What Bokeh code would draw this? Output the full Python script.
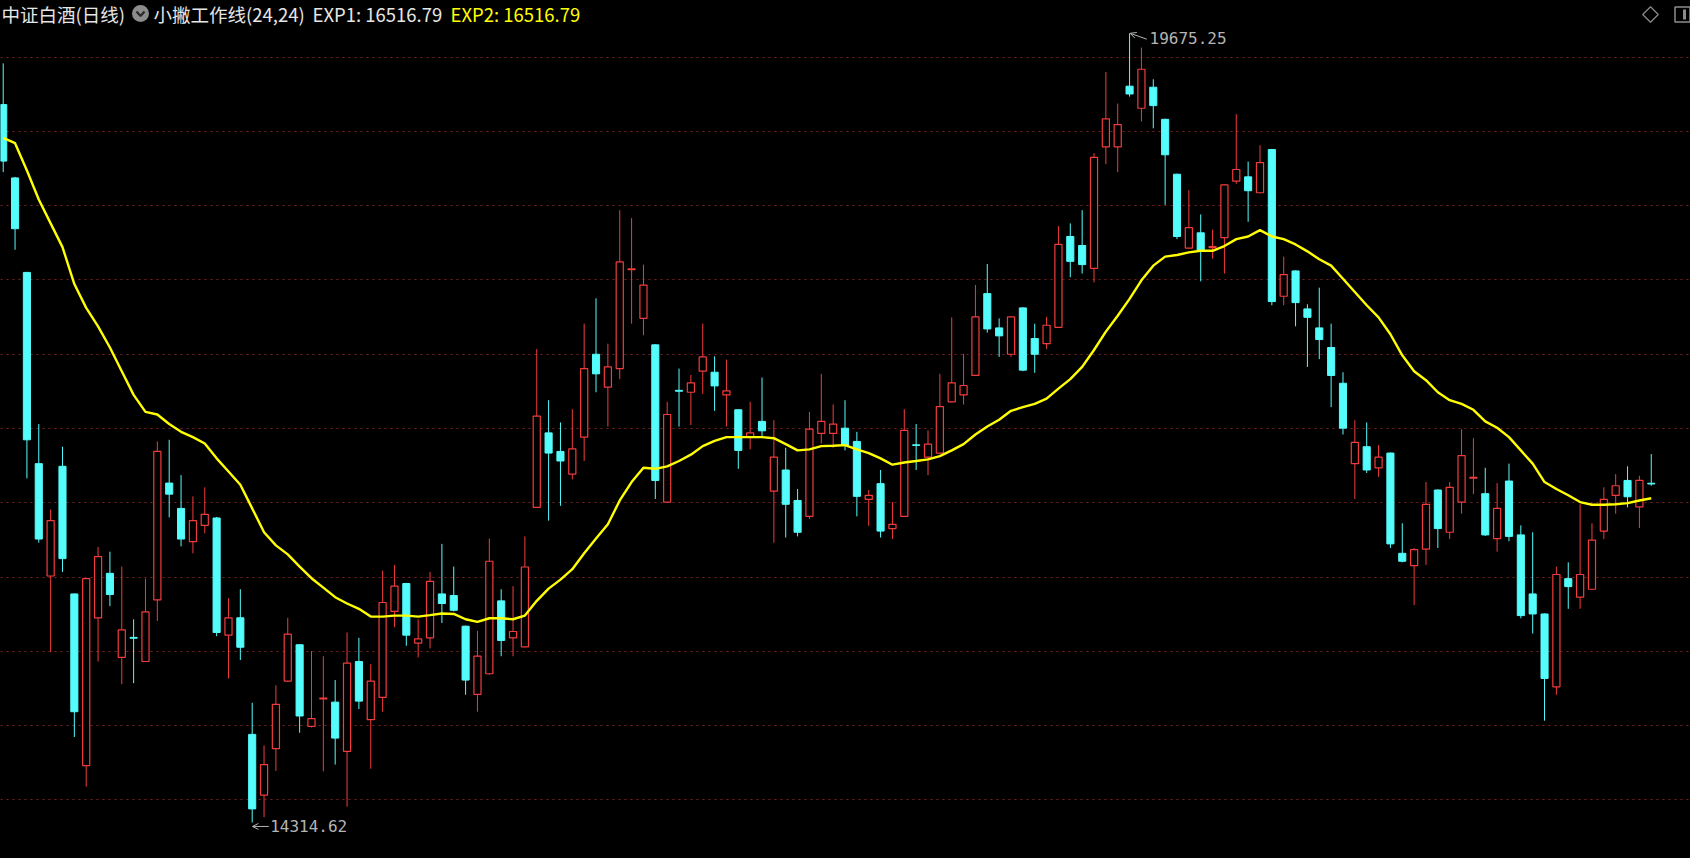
import numpy as np
from bokeh.plotting import figure
from bokeh.models import (Range1d, FixedTicker, Grid, Label, Arrow, OpenHead,
                          ColumnDataSource, GlobalInlineStyleSheet)
from bokeh.embed import file_html
from bokeh.resources import INLINE

# ---------------- data ----------------
title_main = "中证白酒(日线)"
title_ind = "小撇工作线(24,24)"
exp1_label = "EXP1: 16516.79"
exp2_label = "EXP2: 16516.79"

opens = [
    19191, 18693, 18051, 16752, 15989, 16734, 15867, 14701, 15705, 16007,
    15436, 15572, 15408, 15827, 16620, 16448, 16222, 16333, 16383, 15587,
    15705, 14913, 14500, 14816, 15275, 15522, 14967, 15154, 15132, 14798,
    15408, 15013, 15164, 15748, 15938, 15533, 15569, 15867, 15856, 15648,
    15185, 15325, 15820, 15569, 15508, 16455, 16961, 16835, 16681, 16932,
    17495, 17272, 17398, 18069, 17739, 17559, 16491, 17250, 17237, 17380,
    17373, 17219, 17118, 16932, 17039, 16566, 16709, 16502, 16394, 16957,
    16957, 16993, 16903, 16509, 16616, 16311, 16394, 16880, 16796, 16824,
    17172, 17219, 17351, 17907, 17674, 17495, 17810, 17602, 17567, 17678,
    18295, 18234, 18079, 18904, 18904, 19316, 19166, 19309, 19091, 18718,
    18216, 18320, 18220, 18287, 18671, 18700, 18592, 18886, 17889, 18061,
    17803, 17674, 17541, 17298, 16752, 16867, 16724, 16824, 16143, 16060,
    16172, 16573, 16286, 16491, 16653, 16548, 16243, 16634, 16268, 15867,
    15731, 15236, 15971, 15845, 15899, 16294, 16537, 16638, 16458, 16619,
]
highs = [
    19471, 18700, 18055, 17021, 16440, 16867, 15870, 15975, 16186, 16154,
    16053, 15695, 15971, 16903, 16914, 16674, 16530, 16591, 16390, 15838,
    15899, 15128, 14838, 15246, 15705, 15525, 15479, 15444, 15282, 15605,
    15569, 15390, 16025, 16064, 15942, 15695, 16017, 16207, 16053, 15652,
    15616, 16243, 15899, 15920, 16258, 17531, 17183, 17032, 17122, 17703,
    17875, 17567, 18474, 18420, 18104, 17563, 17172, 17398, 17355, 17703,
    17481, 17459, 17122, 17172, 17337, 17047, 16860, 16580, 17104, 17362,
    17154, 17183, 16968, 16573, 16709, 16491, 17122, 17021, 16978, 17362,
    17746, 17498, 17965, 18108, 17739, 17752, 17814, 17703, 17749, 18366,
    18384, 18474, 18861, 19413, 19198, 19675.25, 19578, 19363, 19095, 18722,
    18610, 18445, 18341, 18650, 19126, 18804, 18915, 18890, 18158, 18065,
    17835, 17947, 17703, 17373, 17047, 17032, 16878, 16828, 16347, 16179,
    16627, 16577, 16627, 16986, 16925, 16724, 16620, 16752, 16333, 16286,
    15735, 16053, 16082, 16476, 16347, 16591, 16681, 16734, 16670, 16817,
]
lows = [
    18732, 18205, 16652, 16215, 15472, 16017, 14895, 14558, 15408, 15784,
    15254, 15261, 15405, 15684, 16387, 16190, 16143, 16279, 15580, 15293,
    15418, 14314.62, 14350, 14665, 15272, 14924, 14960, 14662, 14708, 14422,
    15085, 14680, 15067, 15641, 15515, 15436, 15497, 15670, 15748, 15182,
    15067, 15318, 15444, 15444, 15505, 16452, 16365, 16466, 16645, 16770,
    17237, 17004, 17326, 17703, 17624, 16512, 16488, 17004, 17014, 17226,
    17111, 17004, 16717, 16849, 16932, 16215, 16250, 16258, 16376, 16889,
    16860, 16842, 16394, 16329, 16250, 16240, 16391, 16709, 16674, 16820,
    17168, 17154, 17348, 17642, 17477, 17477, 17380, 17369, 17531, 17675,
    18018, 18043, 17983, 18786, 18732, 19245, 19076, 19030, 18510, 18277,
    18213, 17990, 18144, 18043, 18653, 18395, 18589, 17828, 17828, 17685,
    17409, 17462, 17136, 16950, 16512, 16688, 16663, 16179, 16082, 15791,
    16064, 16179, 16240, 16412, 16545, 16261, 16154, 16225, 15702, 15598,
    15006, 15182, 15766, 15766, 15896, 16240, 16412, 16455, 16315, 16602,
]
closes = [
    18807, 18348, 16914, 16240, 16365, 16107, 15067, 15971, 16121, 15863,
    15623, 15566, 15745, 16835, 16545, 16240, 16365, 16408, 15605, 15705,
    15505, 14407, 14708, 15117, 15594, 15038, 15020, 15160, 14888, 15397,
    15139, 15275, 15809, 15920, 15587, 15562, 15953, 15802, 15756, 15282,
    15444, 16089, 15551, 15612, 16050, 17075, 16824, 16770, 16853, 17398,
    17362, 17409, 18122, 18075, 17965, 16638, 17086, 17244, 17301, 17477,
    17280, 17247, 16842, 16961, 16975, 16796, 16476, 16286, 16986, 17039,
    17021, 16878, 16530, 16537, 16294, 16340, 16978, 16876, 16885, 17140,
    17301, 17283, 17749, 17667, 17620, 17749, 17387, 17495, 17692, 18241,
    18126, 18104, 18832, 19094, 19055, 19263, 19431, 19184, 18850, 18295,
    18355, 18194, 18226, 18646, 18750, 18606, 18797, 17853, 18036, 17846,
    17746, 17595, 17351, 16993, 16896, 16709, 16796, 16207, 16089, 16168,
    16476, 16311, 16591, 16806, 16659, 16268, 16448, 16258, 15720, 15731,
    15293, 15999, 15917, 15999, 16233, 16509, 16602, 16527, 16638, 16614,
]
exp_line = [
    18965, 18929, 18743, 18546, 18384, 18223, 17972, 17810, 17685, 17541,
    17380, 17219, 17104, 17086, 17021, 16968, 16932, 16889, 16788, 16699,
    16609, 16448, 16286, 16197, 16136, 16053, 15974, 15910, 15845, 15802,
    15766, 15713, 15713, 15720, 15720, 15713, 15723, 15734, 15731, 15695,
    15677, 15702, 15702, 15695, 15720, 15820, 15903, 15964, 16035, 16143,
    16243, 16340, 16502, 16627, 16724, 16717, 16734, 16770, 16813, 16871,
    16907, 16932, 16932, 16932, 16932, 16925, 16885, 16842, 16849, 16871,
    16874, 16878, 16849, 16824, 16788, 16745, 16760, 16770, 16781, 16803,
    16842, 16885, 16950, 17004, 17050, 17111, 17136, 17158, 17194, 17262,
    17326, 17409, 17524, 17649, 17757, 17871, 17997, 18097, 18158, 18169,
    18187, 18198, 18198, 18230, 18277, 18295, 18338, 18295, 18277, 18241,
    18194, 18140, 18097, 18008, 17918, 17828, 17746, 17631, 17488, 17380,
    17319, 17237, 17183, 17158, 17118, 17039, 16996, 16932, 16842, 16752,
    16627, 16580, 16537, 16491, 16473, 16473, 16476, 16484, 16502, 16516.79,
]
grid_levels = [19514, 19009, 18505, 18000, 17496, 16991, 16486, 15982, 15477, 14973, 14468]

# ---------------- styling ----------------
UP = "#F03C3C"
DOWN = "#54FCFC"
YELLOW = "#FFFF00"
GRAY = "#B4B4B4"

W, H = 1690, 858
x_lo, x_hi = -0.228, 142.31
y_lo, y_hi = 14070.0, 19898.0


def X(px):
    return x_lo + px / W * (x_hi - x_lo)


def Y(py):
    return y_hi - py / H * (y_hi - y_lo)


n = len(opens)
idx = np.arange(n)
o = np.array(opens, dtype=float)
c = np.array(closes, dtype=float)
hi = np.array(highs, dtype=float)
lo = np.array(lows, dtype=float)
up = c >= o

src_up = ColumnDataSource(dict(x=idx[up], o=o[up], c=c[up], h=hi[up], l=lo[up]))
src_dn = ColumnDataSource(dict(x=idx[~up], o=o[~up], c=c[~up], h=hi[~up], l=lo[~up]))

p = figure(width=W, height=H, x_range=Range1d(x_lo, x_hi), y_range=Range1d(y_lo, y_hi),
           output_backend="svg", toolbar_location=None,
           x_axis_location=None, y_axis_location=None,
           background_fill_color="black", border_fill_color="black",
           min_border=0, outline_line_color=None)
p.grid.visible = False
p.stylesheets = [GlobalInlineStyleSheet(css="html, body { background: #000000; }")]

grid = Grid(dimension=1, ticker=FixedTicker(ticks=grid_levels),
            grid_line_color="#8A1C1C", grid_line_dash="2 4", grid_line_width=1)
p.add_layout(grid)

# wicks
p.segment(x0="x", y0="l", x1="x", y1="h", source=src_up, line_color=UP, line_width=1)
p.segment(x0="x", y0="l", x1="x", y1="h", source=src_dn, line_color=DOWN, line_width=1)
# bodies
BW = 0.6
p.vbar(x="x", width=BW, top="c", bottom="o", source=src_up,
       fill_color="black", line_color=UP, line_width=1.2)
p.vbar(x="x", width=BW, top="o", bottom="c", source=src_dn,
       fill_color=DOWN, line_color=DOWN, line_width=1)

# indicator line
p.line(idx, exp_line, line_color=YELLOW, line_width=2.4)

# extreme labels
imax = int(np.argmax(hi))
imin = int(np.argmin(lo))
p.add_layout(Arrow(x_start=imax + 1.45, y_start=hi[imax] - 40, x_end=imax + 0.05, y_end=hi[imax],
                   line_color=GRAY, line_width=1,
                   end=OpenHead(size=6, line_color=GRAY, line_width=1)))
p.add_layout(Label(x=imax, y=hi[imax], text=f"{hi[imax]:.2f}", x_offset=20, y_offset=-5,
                   text_color=GRAY, text_font="DejaVu Sans Mono", text_font_size="16px",
                   text_baseline="middle", text_align="left"))
p.add_layout(Arrow(x_start=imin + 1.4, y_start=lo[imin] - 27, x_end=imin + 0.02, y_end=lo[imin] - 27,
                   line_color=GRAY, line_width=1,
                   end=OpenHead(size=6, line_color=GRAY, line_width=1)))
p.add_layout(Label(x=imin, y=lo[imin], text=f"{lo[imin]:.2f}", x_offset=18, y_offset=-4,
                   text_color=GRAY, text_font="DejaVu Sans Mono", text_font_size="16px",
                   text_baseline="middle", text_align="left"))

# header
HF = "Noto Sans CJK SC"
HS = "18.5px"
hy = Y(13)
p.add_layout(Label(x=X(1), y=hy, text=title_main, text_color="#E6E6E6", text_font=HF,
                   text_font_size=HS, text_baseline="middle"))
p.scatter(x=[X(140)], y=[hy], marker="circle", size=17, fill_color="#8C8C8C", line_color=None)
p.line(x=[X(136), X(140), X(144)], y=[Y(11), Y(15.5), Y(11)], line_color="#2A2A2A", line_width=2.2)
p.add_layout(Label(x=X(153), y=hy, text=title_ind, text_color="#E6E6E6", text_font=HF,
                   text_font_size=HS, text_baseline="middle"))
p.add_layout(Label(x=X(312), y=hy, text=exp1_label, text_color="#E6E6E6", text_font=HF,
                   text_font_size=HS, text_baseline="middle"))
p.add_layout(Label(x=X(450), y=hy, text=exp2_label, text_color=YELLOW, text_font=HF,
                   text_font_size=HS, text_baseline="middle"))

# window icons (top right)
p.scatter(x=[X(1650)], y=[Y(14)], marker="square", angle=np.pi / 4, size=11, fill_color=None,
          line_color="#8C8C8C", line_width=1.2)
p.scatter(x=[X(1682)], y=[Y(14)], marker="square", size=15, fill_color=None,
          line_color="#8C8C8C", line_width=1.5)
p.segment(x0=[X(1684)], y0=[Y(9)], x1=[X(1684)], y1=[Y(19)], line_color="#8C8C8C", line_width=3)

open("out.html", "w").write(file_html(p, INLINE))
